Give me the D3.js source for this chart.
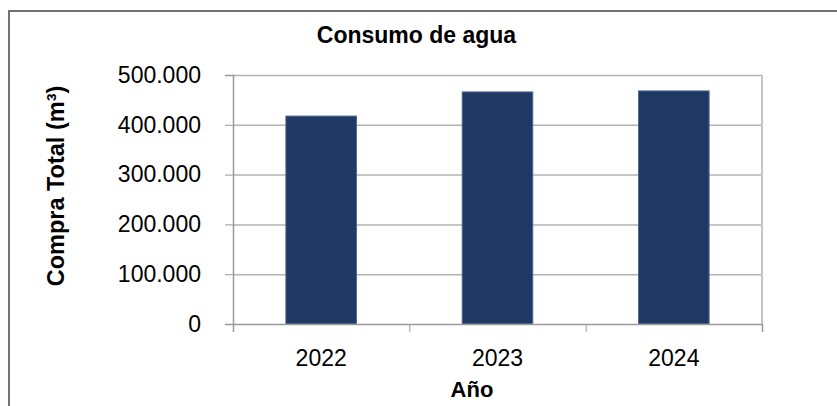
<!DOCTYPE html>
<html>
<head>
<meta charset="utf-8">
<script src="https://cdn.jsdelivr.net/npm/d3@7"></script>
<style>
  html, body { margin: 0; padding: 0; background: #fff; }
  svg { display: block; font-family: "Liberation Sans", Arial, sans-serif; }
</style>
</head>
<body>
<svg id="chart" width="837" height="406"></svg>
<script>
const categories = ["2022", "2023", "2024"];
const compra_total = [417500, 466000, 468000];
const y_ticks = [0, 100000, 200000, 300000, 400000, 500000];

const title_text = "Consumo de agua";
const y_title_text = "Compra Total (m³)";
const x_title_text = "Año";

window.addEventListener("load", () => {
  const svg = d3.select("#chart");

  const left = 233, right = 762, top = 75, bottom = 324;

  // outer frame (runs off the right and bottom of the picture)
  svg.append("rect")
    .attr("x", 9).attr("y", 11)
    .attr("width", 900).attr("height", 500)
    .attr("fill", "none")
    .attr("stroke", "#767171")
    .attr("stroke-width", 2);

  const fmt = d3.formatLocale({
    decimal: ",", thousands: ".", grouping: [3], currency: ["", "€"]
  }).format(",");

  const x = d3.scaleBand()
    .domain(categories)
    .range([left, right])
    .paddingInner(0.6)
    .paddingOuter(0.3);

  const y = d3.scaleLinear()
    .domain([0, 500000])
    .range([bottom, top]);

  // gridlines
  svg.append("g")
    .attr("transform", `translate(${left},0)`)
    .call(d3.axisLeft(y).tickValues(y_ticks.slice(1)).tickSize(-(right - left)).tickFormat(""))
    .call(g => g.select(".domain").remove())
    .call(g => g.selectAll("line").attr("stroke", "#b3b3b3").attr("stroke-width", 1.5));

  // right border of the plot area
  svg.append("line")
    .attr("x1", right).attr("x2", right)
    .attr("y1", top).attr("y2", bottom)
    .attr("stroke", "#c4c4c4").attr("stroke-width", 2);

  // bars
  svg.selectAll("rect.bar")
    .data(categories)
    .enter()
    .append("rect")
    .attr("class", "bar")
    .attr("x", (c) => x(c))
    .attr("y", (c, i) => y(compra_total[i]))
    .attr("width", x.bandwidth())
    .attr("height", (c, i) => y(0) - y(compra_total[i]))
    .attr("fill", "#1f3864")
    .attr("stroke", "#4d6690")
    .attr("stroke-width", 1);

  // y axis
  svg.append("g")
    .attr("transform", `translate(${left},0)`)
    .call(d3.axisLeft(y).tickValues(y_ticks).tickSize(8).tickPadding(24).tickFormat(fmt))
    .call(g => g.select(".domain").attr("stroke", "#9a9a9a").attr("stroke-width", 1.5))
    .call(g => g.selectAll("line").attr("stroke", "#9a9a9a"))
    .call(g => g.selectAll("text")
      .attr("font-size", 23)
      .attr("font-family", "Liberation Sans, Arial, sans-serif")
      .attr("fill", "#000"));

  // x axis: boundary ticks
  const xb = d3.scaleLinear().domain([0, categories.length]).range([left, right]);
  svg.append("g")
    .attr("transform", `translate(0,${bottom})`)
    .call(d3.axisBottom(xb).tickValues(d3.range(categories.length + 1)).tickSize(8).tickFormat(""))
    .call(g => g.select(".domain").attr("stroke", "#9a9a9a").attr("stroke-width", 1.5))
    .call(g => g.selectAll("line").attr("stroke", "#9a9a9a"));

  // x axis labels
  svg.append("g")
    .attr("transform", `translate(0,${bottom})`)
    .call(d3.axisBottom(x).tickSize(0).tickPadding(26))
    .call(g => g.select(".domain").remove())
    .call(g => g.selectAll("text")
      .attr("font-size", 23)
      .attr("font-family", "Liberation Sans, Arial, sans-serif")
      .attr("fill", "#000"));

  // titles
  svg.append("text")
    .attr("x", 416.5).attr("y", 43)
    .attr("text-anchor", "middle")
    .attr("font-size", 23)
    .attr("font-weight", "bold")
    .text(title_text);

  svg.append("text")
    .attr("transform", "translate(64,186) rotate(-90)")
    .attr("text-anchor", "middle")
    .attr("font-size", 23.5)
    .attr("font-weight", "bold")
    .text(y_title_text);

  svg.append("text")
    .attr("x", 472).attr("y", 397)
    .attr("text-anchor", "middle")
    .attr("font-size", 22)
    .attr("font-weight", "bold")
    .text(x_title_text);
});
</script>
</body>
</html>
